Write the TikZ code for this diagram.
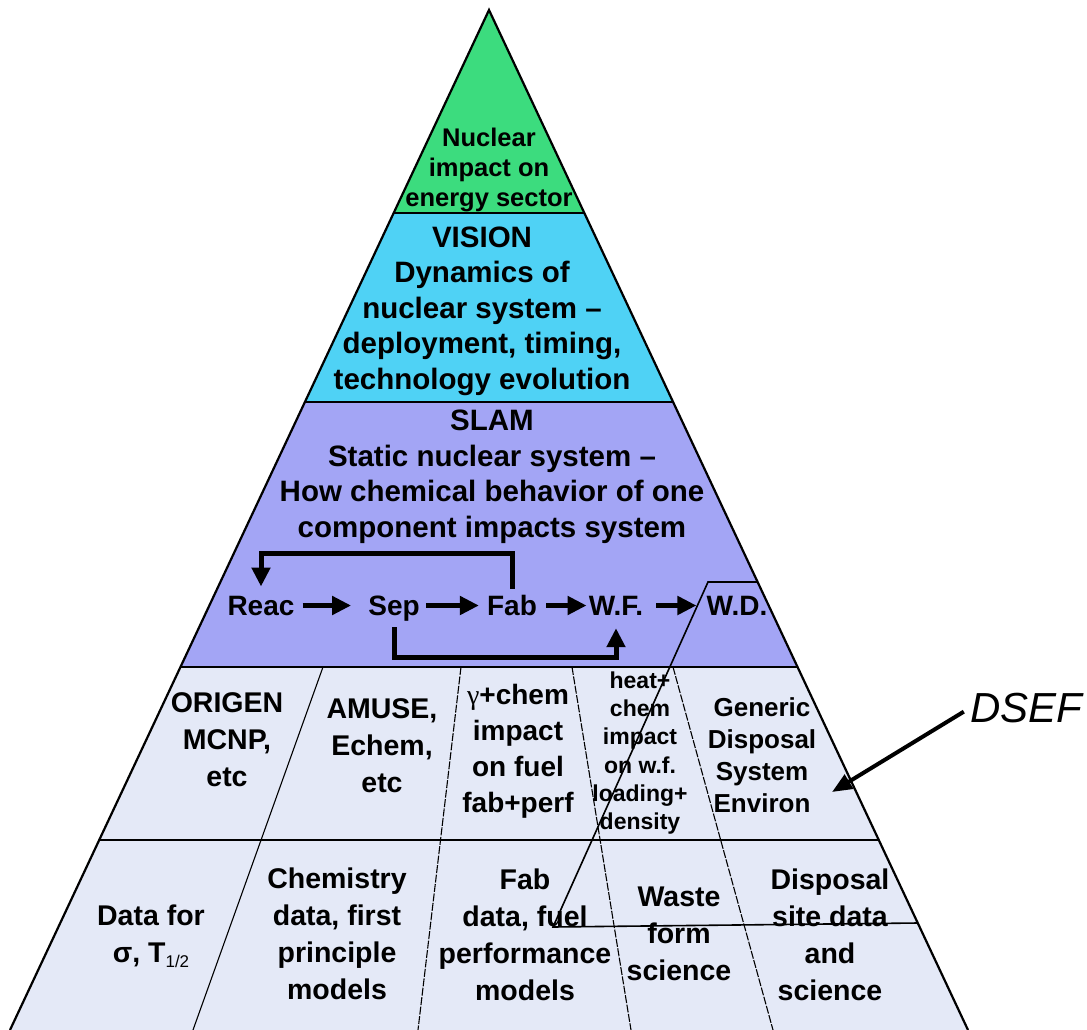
\documentclass[tikz,border=0pt]{standalone}
\usepackage{fontspec}
\setmainfont{Liberation Sans}
\newfontfamily\gammafont{Liberation Serif}
\usetikzlibrary{arrows.meta}
\definecolor{pgreen}{HTML}{3CDC7E}
\definecolor{pcyan}{HTML}{4FD2F5}
\definecolor{ppurple}{HTML}{A3A5F5}
\definecolor{plight}{HTML}{E4E9F7}
\tikzset{
  edgeline/.style={line width=2.2pt, line join=miter},
  bandline/.style={line width=2.4pt},
  rowline/.style={line width=1.2pt},
  colsolid/.style={line width=1.1pt},
  coldash/.style={line width=1.1pt, dash pattern=on 8pt off 1.5pt},
  flowarrow/.style={line width=5pt, -{Triangle[length=19pt,width=18pt]}},
  looparrow/.style={line width=5pt, line join=miter, -{Triangle[length=19pt,width=18pt]}},
  dsefarrow/.style={line width=4pt, -{Triangle[length=20pt,width=16pt]}},
  outline/.style={line width=1.6pt, line join=miter},
  txt/.style={inner sep=0pt, align=center},
  toptxt/.style={txt, font=\bfseries\fontsize{25.5}{30}\selectfont},
  midtxt/.style={txt, font=\bfseries\fontsize{29.5}{35.5}\selectfont},
  flowtxt/.style={txt, anchor=base, font=\bfseries\fontsize{28}{34}\selectfont},
  celltxt/.style={txt, font=\bfseries\fontsize{28.5}{37}\selectfont},
  gamtxt/.style={txt, font=\bfseries\fontsize{28}{36}\selectfont},
  heattxt/.style={txt, font=\bfseries\fontsize{23}{28.2}\selectfont},
  gentxt/.style={txt, font=\bfseries\fontsize{26}{32}\selectfont},
  dseftxt/.style={txt, font=\itshape\fontsize{42}{48}\selectfont},
}
\begin{document}
\begin{tikzpicture}[x=1pt,y=-1pt]
\useasboundingbox (0,0) rectangle (1087,1030);
% bands
\fill[pgreen] (489,10) -- (584.3,213) -- (393.7,213) -- cycle;
\fill[pcyan] (393.7,213) -- (584.3,213) -- (673.1,402) -- (304.9,402) -- cycle;
\fill[ppurple] (304.9,402) -- (673.1,402) -- (797.5,667) -- (180.5,667) -- cycle;
\fill[plight] (180.5,667) -- (797.5,667) -- (968,1030) -- (10,1030) -- cycle;
% band boundaries
\draw[bandline] (393.7,213) -- (584.3,213);
\draw[bandline] (304.9,402) -- (673.1,402);
\draw[bandline] (180.5,667) -- (797.5,667);
\draw[rowline] (99.2,840) -- (878.8,840);
% column separators
\draw[colsolid] (323,667) -- (193,1030);
\draw[coldash] (461,667) -- (418,1030);
\draw[coldash] (572,667) -- (631,1030);
\draw[coldash] (673,667) -- (773,1030);
% pyramid edges
\draw[edgeline] (10,1030) -- (489,10) -- (968,1030);

% texts
\node[toptxt] (nuclear) at (489,170) {Nuclear\\impact on\\energy sector};
\node[midtxt] (vision) at (482,311) {VISION\\Dynamics of\\nuclear system –\\deployment, timing,\\technology evolution};
\node[midtxt] (slam) at (492,477) {SLAM\\Static nuclear system –\\How chemical behavior of one\\component impacts system};

\node[flowtxt] (reac) at (261,615) {Reac};
\node[flowtxt] (sep) at (394,615) {Sep};
\node[flowtxt] (fab) at (512,615) {Fab};
\node[flowtxt] (wf) at (616,615) {W.F.};
\node[flowtxt] (wd) at (737,615) {W.D.};

\coordinate (looptop) at (0,553);
\coordinate (loopbot) at (0,657);
\draw[flowarrow, shorten <=8pt, shorten >=17pt] (reac.east) -- (sep.west |- reac.east);
\draw[flowarrow, shorten <=6pt, shorten >=8pt] (sep.east |- reac.east) -- (fab.west |- reac.east);
\draw[flowarrow, shorten <=9pt, shorten >=2pt] (fab.east |- reac.east) -- (wf.west |- reac.east);
\draw[flowarrow, shorten <=13pt, shorten >=10pt] (wf.east |- reac.east) -- (wd.west |- reac.east);
\draw[looparrow, shorten <=6pt, shorten >=9pt] (fab.north) -- (fab.north |- looptop) -| (reac.north);
\draw[looparrow, shorten <=6pt, shorten >=13pt] (sep.south) -- (sep.south |- loopbot) -| (wf.south);

\node[celltxt] (origen) at (227,740) {ORIGEN\\MCNP,\\etc};
\node[celltxt] (amuse) at (382,746) {AMUSE,\\Echem,\\etc};
\node[gamtxt] (gamma) at (518,751) {{\gammafont\mdseries γ}+chem\\impact\\on fuel\\fab+perf};
\node[heattxt] (heat) at (640,753) {heat+\\chem\\impact\\on w.f.\\loading+\\density};
\node[gentxt] (generic) at (762,755) {Generic\\Disposal\\System\\Environ};

\node[celltxt] (datafor) at (151,936) {Data for\\σ, T{\mdseries\fontsize{17}{17}\selectfont\raisebox{-5pt}{1/2}}};
\node[celltxt] (chem) at (337,934) {Chemistry\\data, first\\principle\\models};
\node[celltxt] (fabdata) at (525,935) {Fab\\data, fuel\\performance\\models};
\node[celltxt] (waste) at (679,934) {Waste\\form\\science};
\node[celltxt] (disposal) at (830,935) {Disposal\\site data\\and\\science};

% DSEF
\draw[outline] (758,582) -- (708,582) -- (553,927) -- (918,923);
\node[dseftxt] (dsef) at (1026,708) {DSEF};
\coordinate (dseftip) at (832,792);
\draw[dsefarrow, shorten <=7pt] (dsef.west) -- (dseftip);
\end{tikzpicture}
\end{document}
